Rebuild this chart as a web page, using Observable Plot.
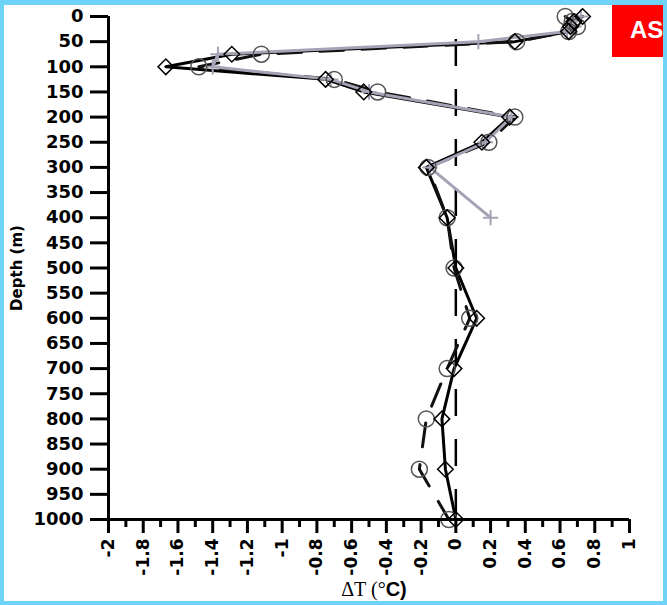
<!DOCTYPE html>
<html>
<head>
<meta charset="utf-8">
<script src="https://cdn.jsdelivr.net/npm/d3@7"></script>
<script src="https://cdn.jsdelivr.net/npm/@observablehq/plot@0.6"></script>
<style>
  html, body { margin: 0; padding: 0; background: #fff; }
  #wrap { position: relative; width: 667px; height: 605px; overflow: hidden; background: #fff; }
  #border { position: absolute; left: 0; top: 0; width: 667px; height: 605px; box-sizing: border-box;
            border: 4px solid #6fd3f7; border-top-width: 5px; pointer-events: none; }
  #badge { position: absolute; left: 612px; top: 0; width: 55px; height: 57px; background: #ff0000;
           color: #fff; font: bold 24px "Liberation Sans", Arial, sans-serif; line-height: 60px; padding-left: 18px; box-sizing: border-box; white-space: nowrap; }
  #xlabel { position: absolute; left: 0; width: 748px; top: 578px; text-align: center; font-size: 20px; color: #000; }
  #xlabel .s { font-family: "Liberation Serif", "Times New Roman", serif; }
  #xlabel .b { font-family: "Liberation Sans", Arial, sans-serif; font-weight: bold; }
  #ylabel { position: absolute; left: 17px; top: 268px; transform: translate(-50%, -50%) rotate(-90deg);
            font: bold 15px "DejaVu Sans", sans-serif; white-space: nowrap; }
</style>
</head>
<body>
<div id="wrap">
  <div id="chart"></div>
  <div id="ylabel">Depth (m)</div>
  <div id="xlabel"><span class="s">ΔT (°</span><span class="b">C)</span></div>
  <div id="badge">AS</div>
  <div id="border"></div>
</div>
<script>
// Standard depths (m)
const depths = [0, 10, 20, 30, 50, 75, 100, 125, 150, 200, 250, 300, 400, 500, 600, 700, 800, 900, 1000];
// Series with diamond markers (solid black line)
const diamondDT = [0.73, 0.68, 0.66, 0.65, 0.34, -1.29, -1.67, -0.75, -0.53, 0.31, 0.15, -0.17, -0.05, 0.0, 0.12, -0.01, -0.08, -0.06, 0.0];
// Series with circle markers (dashed black line)
const circleDT = [0.63, 0.67, 0.70, 0.65, 0.35, -1.12, -1.48, -0.70, -0.45, 0.34, 0.19, -0.16, -0.05, -0.01, 0.08, -0.05, -0.17, -0.21, -0.04];
// Series with plus markers (grey line), only to 400 m
const plusDepths = [0, 10, 20, 30, 50, 75, 100, 125, 150, 200, 250, 300, 400];
const plusDT = [0.72, 0.67, 0.68, 0.64, 0.13, -1.37, -1.40, -0.72, -0.50, 0.32, 0.17, -0.15, 0.20];
// Tick values
const depthTicks = d3.range(0, 1001, 50);
const dtMajorTicks = d3.range(-20, 11, 2).map(d => d / 10);
const dtMinorTicks = d3.range(-19, 10, 2).map(d => d / 10);

const diamonds = depths.map((d, i) => ({depth: d, dt: diamondDT[i]}));
const circles = depths.map((d, i) => ({depth: d, dt: circleDT[i]}));
const pluses = plusDepths.map((d, i) => ({depth: d, dt: plusDT[i]}));

const fmt = d => String(+d.toFixed(1));

const chart = Plot.plot({
  width: 667,
  height: 605,
  marginLeft: 108,
  marginRight: 38,
  marginTop: 16,
  marginBottom: 86,
  style: {background: "transparent", fontFamily: "DejaVu Sans, sans-serif", fontWeight: "bold", color: "#000"},
  x: {domain: [-2, 1]},
  y: {domain: [0, 1000], reverse: true},
  marks: [
    Plot.ruleX([0], {y1: 0, y2: 1000, stroke: "#000", strokeWidth: 2.5, strokeDasharray: "27,23", strokeDashoffset: 27}),
    Plot.line(diamonds, {x: "dt", y: "depth", stroke: "#000", strokeWidth: 3}),
    Plot.line(circles, {x: "dt", y: "depth", stroke: "#111", strokeWidth: 3, strokeDasharray: "24,18"}),
    Plot.line(pluses, {x: "dt", y: "depth", stroke: "#a4a4b6", strokeWidth: 3}),
    Plot.dot(pluses, {x: "dt", y: "depth", symbol: "plus", r: 5, stroke: "#a4a4b6", strokeWidth: 2}),
    Plot.dot(circles, {x: "dt", y: "depth", symbol: "circle", r: 8, stroke: "#555", strokeWidth: 1.5, fill: "none"}),
    Plot.dot(diamonds, {x: "dt", y: "depth", symbol: "diamond2", r: 7, stroke: "#000", strokeWidth: 1.5, fill: "none"}),
    Plot.axisY({ticks: depthTicks, tickSize: 18, tickPadding: 7, strokeWidth: 3, fontSize: 18, fontWeight: "bold", label: null, tickFormat: d => String(d)}),
    Plot.axisX({ticks: dtMinorTicks, tickSize: 8, strokeWidth: 3, text: null, label: null}),
    Plot.axisX({ticks: dtMajorTicks, tickSize: 14, tickPadding: 5, tickRotate: -90, strokeWidth: 3, fontSize: 17, fontWeight: "bold", label: null, tickFormat: fmt}),
    Plot.ruleX([-2], {y1: 0, y2: 1000, stroke: "#000", strokeWidth: 3}),
    Plot.ruleY([1000], {x1: -2, x2: 1, stroke: "#000", strokeWidth: 3})
  ]
});
document.getElementById("chart").appendChild(chart);
</script>
</body>
</html>
